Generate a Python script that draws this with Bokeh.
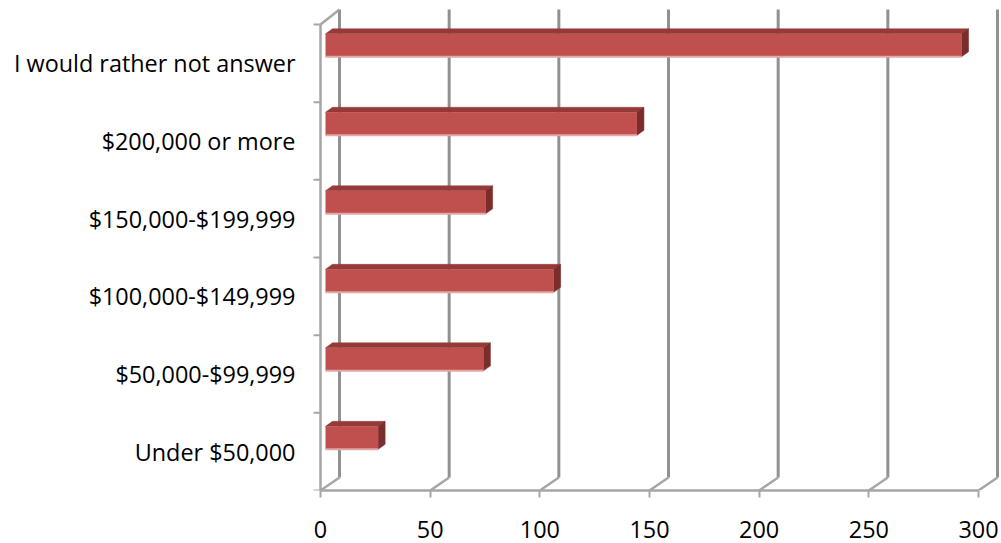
from bokeh.plotting import figure
from bokeh.models import FixedTicker, Range1d
from bokeh.embed import file_html
from bokeh.resources import INLINE

# ---------------- data ----------------
categories = ["Under $50,000", "$50,000-$99,999", "$100,000-$149,999",
              "$150,000-$199,999", "$200,000 or more", "I would rather not answer"]
counts = [24, 72, 104, 73, 142, 290]
x_ticks = [0, 50, 100, 150, 200, 250, 300]

# ---------------- layout (pixels) ----------------
W, H = 1000, 543
LEFT = 300            # frame left inside figure
FRAME_H = 490         # frame bottom (x axis) position
BOTTOM = H - FRAME_H  # space below frame for x labels
ZERO_PX = 320         # x = 0 position inside figure
SX = (978 - 320) / 300.0   # px per value unit
SY = (FRAME_H - 24) / 6.0  # px per category unit

def dx(px):
    return px / SX

def dy(px):
    return px / SY

FONT = "Open Sans"
FS = "23.4px"

p = figure(width=W, height=H, output_backend="svg", toolbar_location=None,
           x_range=Range1d(dx(LEFT - ZERO_PX), dx(W - ZERO_PX)),
           y_range=Range1d(0, dy(FRAME_H)),
           min_border_left=LEFT, min_border_right=0, min_border_top=0,
           min_border_bottom=BOTTOM)
p.outline_line_color = None
p.xgrid.visible = False
p.ygrid.visible = False
p.background_fill_color = "white"
p.border_fill_color = "white"

n = len(categories)
WALL_DX = dx(19)
FLOOR_DY = dy(13)
TOP_DY = dy(15)
GRID_C = "#919191"
WALL_C = "#A6A6A6"

# back-wall gridlines
gx = [v + WALL_DX for v in x_ticks]
p.segment(x0=gx, y0=[FLOOR_DY] * len(gx), x1=gx, y1=[n + TOP_DY] * len(gx),
          line_color=GRID_C, line_width=3)
# floor diagonals
p.segment(x0=x_ticks, y0=[0] * len(x_ticks), x1=gx, y1=[FLOOR_DY] * len(gx),
          line_color=WALL_C, line_width=2.5)
# left wall front edge and top edge
p.segment(x0=[0], y0=[0], x1=[0], y1=[n], line_color=WALL_C, line_width=2.5)
p.segment(x0=[0], y0=[n], x1=[WALL_DX], y1=[n + TOP_DY], line_color=WALL_C, line_width=2.5)
# category tick marks
cy = list(range(n + 1))
p.segment(x0=[dx(-7)] * len(cy), y0=cy, x1=[0] * len(cy), y1=cy,
          line_color=WALL_C, line_width=2)

# ---------------- bars ----------------
BX = dx(5)
HALF = dy(11.5)
DXB = dx(7)
DYB = dy(5)
left, right, bot, top = [], [], [], []
for i, v in enumerate(counts):
    c = i + 0.5 + dy(13.8 + 0.85 * i)
    left.append(BX)
    right.append(BX + v)
    bot.append(c - HALF)
    top.append(c + HALF)

top_xs = [[l, r, r + DXB, l + DXB] for l, r in zip(left, right)]
top_ys = [[t, t, t + DYB, t + DYB] for t in top]
side_xs = [[r, r + DXB, r + DXB, r] for r in right]
side_ys = [[b, b + DYB, t + DYB, t] for b, t in zip(bot, top)]

p.patches(top_xs, top_ys, fill_color="#943A38", line_color="#943A38", line_width=0.5)
p.patches(side_xs, side_ys, fill_color="#7A2D2B", line_color="#7A2D2B", line_width=0.5)
p.quad(left=left, right=right, bottom=bot, top=top,
       fill_color="#C0504D", line_color=None)
p.segment(x0=left, y0=bot, x1=right, y1=bot, line_color="#E3A7A5", line_width=2)

# ---------------- axes ----------------
xa = p.xaxis[0]
xa.ticker = FixedTicker(ticks=x_ticks)
xa.bounds = (0, 300)
xa.axis_line_color = WALL_C
xa.axis_line_width = 2.5
xa.major_tick_line_color = WALL_C
xa.major_tick_line_width = 2
xa.major_tick_in = 0
xa.major_tick_out = 7
xa.minor_tick_line_color = None
xa.major_label_standoff = 23
xa.major_label_text_font = FONT
xa.major_label_text_font_size = FS
xa.major_label_text_color = "#000000"

ya = p.yaxis[0]
ya.ticker = FixedTicker(ticks=[i + 0.5 for i in range(n)])
ya.major_label_overrides = {i + 0.5: c for i, c in enumerate(categories)}
ya.axis_line_color = None
ya.major_tick_line_color = None
ya.minor_tick_line_color = None
ya.major_tick_in = 0
ya.major_tick_out = 0
ya.major_label_standoff = 5
ya.major_label_text_font = FONT
ya.major_label_text_font_size = FS
ya.major_label_text_color = "#000000"

open("out.html", "w").write(file_html(p, INLINE))
